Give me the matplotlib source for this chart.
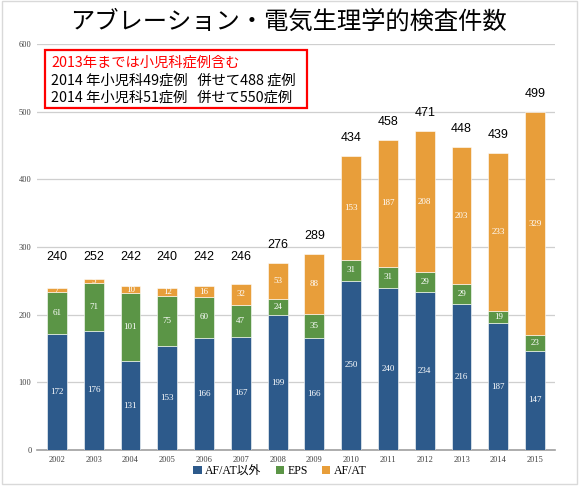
import matplotlib
matplotlib.use('Agg')
import matplotlib.pyplot as plt
from matplotlib.patches import Rectangle, Patch
import numpy as np

years = ['2002', '2003', '2004', '2005', '2006', '2007', '2008',
         '2009', '2010', '2011', '2012', '2013', '2014', '2015']
non_afat = [172, 176, 131, 153, 166, 167, 199, 166, 250, 240, 234, 216, 187, 147]
eps = [61, 71, 101, 75, 60, 47, 24, 35, 31, 31, 29, 29, 19, 23]
afat = [7, 5, 10, 12, 16, 32, 53, 88, 153, 187, 208, 203, 233, 329]
totals = [240, 252, 242, 240, 242, 246, 276, 289, 434, 458, 471, 448, 439, 499]
series_names = ['AF/AT以外', 'EPS', 'AF/AT']
title = 'アブレーション・電気生理学的検査件数'
note_lines = ['2013年までは小児科症例含む',
              '2014 年小児科49症例   併せて488 症例',
              '2014 年小児科51症例   併せて550症例']

W, H = 580, 488
fig = plt.figure(figsize=(W / 100, H / 100), dpi=100)
fig.patch.set_facecolor('white')

def fx(px):
    return px / W

def fy(py):
    return 1 - py / H

ax = fig.add_axes([fx(37), fy(450), fx(555) - fx(37), fy(44) - fy(450)])

blue = '#2D5A8B'
green = '#5B9546'
orange = '#E89E3A'
serif = ['Liberation Serif', 'Noto Sans CJK JP']

x = np.arange(len(years))
w = 0.54
b1 = ax.bar(x, non_afat, width=w, color=blue, edgecolor='white', linewidth=0.4, zorder=3)
b2 = ax.bar(x, eps, width=w, bottom=non_afat, color=green, edgecolor='white', linewidth=0.4, zorder=3)
bottom3 = np.array(non_afat) + np.array(eps)
b3 = ax.bar(x, afat, width=w, bottom=bottom3, color=orange, edgecolor='white', linewidth=0.4, zorder=3)

for c in (b1, b2, b3):
    ax.bar_label(c, label_type='center', color='white', fontsize=6.5,
                 family='Liberation Serif', zorder=4)

label_base = np.maximum(np.array(totals), 258)
for xi, t, lb in zip(x, totals, label_base):
    ax.annotate(str(t), (xi, lb), xytext=(0, 13), textcoords='offset points',
                ha='center', va='center', fontsize=9, family='Liberation Sans',
                color='black')

ax.set_xlim(-0.54, len(years) - 1 + 0.54)
ax.set_ylim(0, 600)
ax.set_yticks(range(0, 601, 100))
ax.set_xticks(x)
ax.set_xticklabels(years)
ax.tick_params(axis='both', length=0, labelsize=6, labelcolor='#404040')
ax.tick_params(axis='y', pad=4)
ax.tick_params(axis='x', pad=4)
for lab in ax.get_xticklabels() + ax.get_yticklabels():
    lab.set_family('Liberation Serif')
ax.yaxis.grid(True, color='#cfcfcf', linewidth=0.9, zorder=0)
ax.set_axisbelow(True)
for s in ('left', 'right', 'top'):
    ax.spines[s].set_visible(False)
ax.spines['bottom'].set_color('#a0a0a0')
ax.spines['bottom'].set_linewidth(1.2)

fig.text(0.497, fy(22), title, ha='center', va='center', fontsize=17.5,
         family=['Noto Sans CJK JP', 'DejaVu Sans'])

box = Rectangle((fx(45), fy(108)), fx(307) - fx(45), fy(50) - fy(108),
                transform=fig.transFigure, facecolor='white', edgecolor='#FF0000',
                linewidth=1.6, zorder=10)
fig.patches.append(box)
colors = ['#FF0000', 'black', 'black']
for i, (line, c) in enumerate(zip(note_lines, colors)):
    fig.text(fx(51), fy(63 + 17.5 * i), line, ha='left', va='center', fontsize=10.3,
             color=c, family=['Noto Sans CJK JP', 'DejaVu Sans'], zorder=11)

handles = [Patch(facecolor=c) for c in (blue, green, orange)]
fig.legend(handles, series_names, loc='center', bbox_to_anchor=(fx(280), fy(471)),
           ncol=3, frameon=False, handlelength=0.7, handleheight=0.7,
           handletextpad=0.3, columnspacing=1.2, prop={'family': serif, 'size': 8.5})

border = Rectangle((fx(2), fy(484)), fx(577) - fx(2), fy(1) - fy(484),
                   transform=fig.transFigure, facecolor='none', edgecolor='#d9d9d9',
                   linewidth=1.0)
fig.patches.append(border)

fig.savefig('out.png', dpi=100)
